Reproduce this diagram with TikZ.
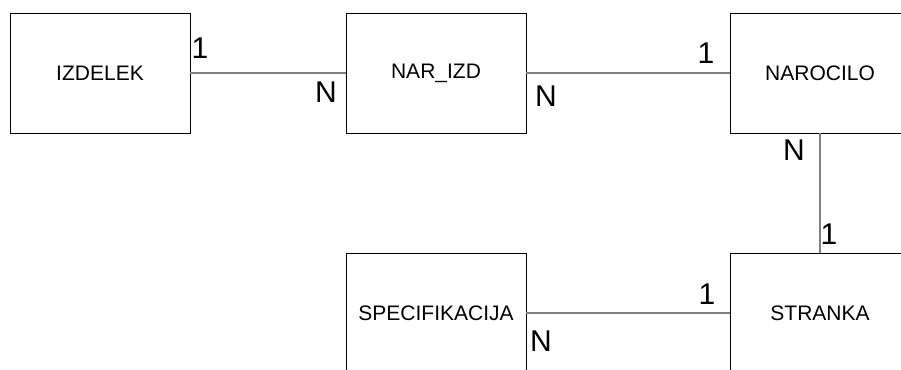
\documentclass[tikz,border=0pt]{standalone}
\usepackage{fontspec}
\setmainfont{Liberation Sans}
\begin{document}
\begin{tikzpicture}[x=1pt,y=-1pt,
  entity/.style={draw=black,line width=0.9pt,minimum width=180pt,minimum height=120pt,inner sep=0pt,
    font=\fontsize{21}{25}\selectfont},
  conn/.style={draw=black!50,line width=1.3pt},
  card/.style={inner sep=0pt,font=\fontsize{30}{34}\selectfont}]
\useasboundingbox (0,0) rectangle (901,369);
\clip (0,0) rectangle (901,369);
\fill[white] (0,0) rectangle (901,369);
\node[entity] (izdelek) at (100,73) {IZDELEK};
\node[entity] (narizd) at (436,73) {NAR\_IZD};
\node[entity] (narocilo) at (820,73) {NAROCILO};
\node[entity] (spec) at (436,313) {SPECIFIKACIJA};
\node[entity] (stranka) at (820,313) {STRANKA};
\draw[conn] (izdelek.east) -- (narizd.west);
\draw[conn] (narizd.east) -- (narocilo.west);
\draw[conn] (narocilo.south) -- (stranka.north);
\draw[conn] (spec.east) -- (stranka.west);
\node[card] (c1) at (200,48) {1};
\node[card] (c2) at (326,92) {N};
\node[card] (c3) at (546,96) {N};
\node[card] (c4) at (706,53) {1};
\node[card] (c5) at (794,150) {N};
\node[card] (c6) at (829,234) {1};
\node[card] (c7) at (707,294) {1};
\node[card] (c8) at (541,341) {N};
\end{tikzpicture}
\end{document}
